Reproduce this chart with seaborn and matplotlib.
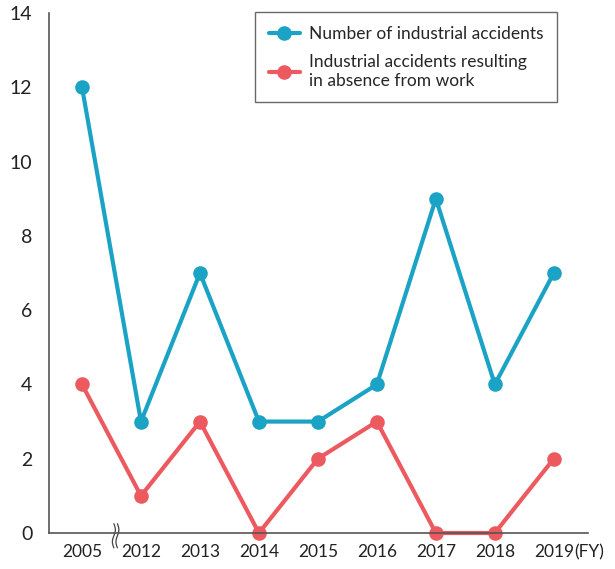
import matplotlib
matplotlib.use("Agg")
import matplotlib.pyplot as plt
import seaborn as sns
import pandas as pd
import numpy as np

years = ["2005", "2012", "2013", "2014", "2015", "2016", "2017", "2018", "2019"]
total_accidents = [12, 3, 7, 3, 3, 4, 9, 4, 7]
absence_accidents = [4, 1, 3, 0, 2, 3, 0, 0, 2]
series_names = ["Number of industrial accidents",
                "Industrial accidents resulting\nin absence from work"]
colors = ["#1ba3c6", "#ec5a60"]

sns.set_style("white")
plt.rcParams['font.family'] = ['Lato', 'DejaVu Sans']

df = pd.DataFrame({
    "year": years * 2,
    "x": list(range(len(years))) * 2,
    "value": total_accidents + absence_accidents,
    "series": [series_names[0]] * len(years) + [series_names[1]] * len(years),
})

fig = plt.figure(figsize=(6.15, 5.69), dpi=100)
ax = fig.add_axes([49/615, 36/569, 539/615, 520/569])

sns.lineplot(data=df, x="x", y="value", hue="series", palette=colors,
             marker="o", markersize=10.5, markeredgewidth=0, linewidth=3,
             ax=ax, legend=True)
for ln in ax.lines:
    ln.set_clip_on(False)

ax.set_xlim(-0.56, 8.58)
ax.set_ylim(0, 14)
ax.set_yticks(range(0, 15, 2))
ax.set_xticks(range(len(years)))
ax.set_xticklabels(years)
ax.set_xlabel("")
ax.set_ylabel("")

for s in ["top", "right"]:
    ax.spines[s].set_visible(False)
for s in ["left", "bottom"]:
    ax.spines[s].set_color("#555555")
    ax.spines[s].set_linewidth(1.2)

ax.tick_params(axis="y", direction="out", length=6, width=1, color="#555555",
               labelsize=14, labelcolor="#222222", pad=6)
ax.tick_params(axis="x", direction="in", length=7, width=1, color="#555555",
               labelsize=12.5, labelcolor="#222222", pad=8)

ax.annotate("(FY)", xy=(8, 0), xycoords=("data", "axes fraction"),
            xytext=(14.5, -8), textcoords="offset points",
            fontsize=12.5, color="#222222", va="top", ha="left",
            annotation_clip=False)

# axis break mark
bx = 0.57
tt = np.linspace(0, 1, 40)
for off in (-0.03, 0.03):
    xs = bx + off + 0.025 * np.sin(tt * 2 * np.pi)
    ys = 0.25 - tt * 0.65
    ax.plot(xs, ys, color="#444444", lw=0.9, clip_on=False)

h, l = ax.get_legend_handles_labels()
leg = ax.legend(h, l, loc="upper right", bbox_to_anchor=(0.9425, 1.002),
                borderaxespad=0, frameon=True, fontsize=12.5, handlelength=1.8,
                borderpad=0.8, labelspacing=0.7, handletextpad=0.5,
                fancybox=False, edgecolor="#444444")
leg.get_frame().set_linewidth(1.0)

fig.savefig("out.png", dpi=100)
